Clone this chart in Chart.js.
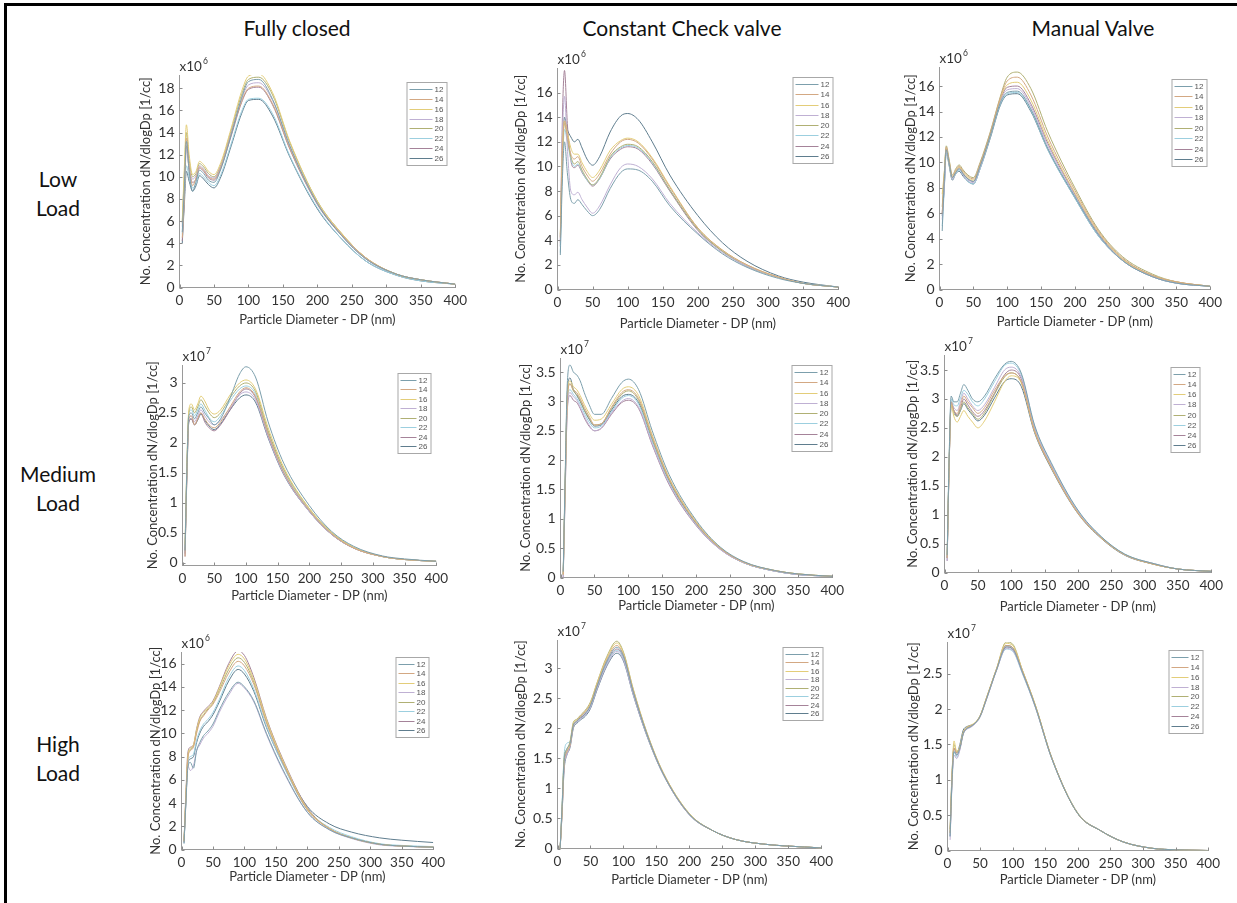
<!DOCTYPE html>
<html>
<head>
<meta charset="utf-8">
<script src="https://cdn.jsdelivr.net/npm/chart.js@4.4.1/dist/chart.umd.min.js"></script>
<style>
html, body { margin: 0; padding: 0; background: #fff; }
body { width: 1237px; height: 903px; position: relative; overflow: hidden; font-family: Lato, 'Open Sans', sans-serif; }
.frame { position: absolute; left: 4px; top: 3px; width: 1240px; height: 910px; border-top: 3px solid #000; border-left: 3px solid #000; }
.lbl { position: absolute; color: #111; font-size: 21px; line-height: 29px; text-align: center; white-space: nowrap; }
canvas { position: absolute; }
</style>
</head>
<body>
<div class="frame"></div>
<div class="lbl" style="left:147px;top:13px;width:300px;">Fully closed</div>
<div class="lbl" style="left:532px;top:13px;width:300px;">Constant Check valve</div>
<div class="lbl" style="left:943px;top:13px;width:300px;">Manual Valve</div>
<div class="lbl" style="left:8px;top:164px;width:100px;">Low<br>Load</div>
<div class="lbl" style="left:8px;top:459px;width:100px;">Medium<br>Load</div>
<div class="lbl" style="left:8px;top:729px;width:100px;">High<br>Load</div>

<script>
// particle diameter (nm) of the plotted bins
const diameters = [4, 7, 10, 14, 19, 24, 29, 35, 42, 50, 60, 75, 90, 100, 115, 135, 160, 200, 235, 270, 315, 350, 400];
const seriesLabels = ['12', '14', '16', '18', '20', '22', '24', '26'];

const xTicks = [0, 50, 100, 150, 200, 250, 300, 350, 400];
const ticksTo18 = [0, 2, 4, 6, 8, 10, 12, 14, 16, 18];
const ticksTo16 = [0, 2, 4, 6, 8, 10, 12, 14, 16];
const ticksTo3 = [0, 0.5, 1, 1.5, 2, 2.5, 3];
const ticksTo35 = [0, 0.5, 1, 1.5, 2, 2.5, 3, 3.5];
const ticksTo25 = [0, 0.5, 1, 1.5, 2, 2.5];

// low load, x10^6
const lowClosed = [
  [5.0, 9.0, 13.2, 10.5, 8.7, 9.6, 10.6, 10.3, 9.7, 9.5, 10.7, 13.8, 17.1, 18.6, 18.8, 17.0, 12.8, 7.6, 4.7, 2.6, 1.2, 0.7, 0.3],
  [4.5, 8.2, 13.5, 11.0, 9.2, 9.9, 10.9, 10.6, 10.0, 9.8, 10.9, 13.9, 16.8, 18.0, 18.2, 16.6, 12.6, 7.6, 4.8, 2.7, 1.2, 0.7, 0.3],
  [6.0, 10.8, 14.7, 12.0, 10.2, 10.5, 11.4, 11.1, 10.5, 10.2, 11.3, 14.4, 17.7, 19.1, 19.3, 17.6, 13.2, 7.8, 4.9, 2.7, 1.2, 0.7, 0.3],
  [5.5, 9.5, 12.5, 10.8, 9.8, 10.1, 11.0, 10.7, 10.1, 9.9, 11.0, 14.0, 17.0, 18.3, 18.5, 16.9, 12.8, 7.6, 4.8, 2.6, 1.2, 0.7, 0.3],
  [5.8, 10.2, 14.0, 11.5, 10.0, 10.3, 11.2, 10.9, 10.3, 10.0, 11.1, 14.2, 17.4, 18.8, 19.0, 17.4, 13.1, 7.8, 4.9, 2.7, 1.2, 0.7, 0.3],
  [4.8, 8.5, 11.0, 10.0, 9.0, 9.4, 10.3, 10.0, 9.5, 9.2, 10.2, 13.0, 15.9, 17.0, 17.1, 15.7, 11.9, 7.2, 4.4, 2.4, 1.1, 0.6, 0.3],
  [4.2, 8.0, 12.8, 10.6, 9.5, 9.8, 10.8, 10.5, 9.9, 9.7, 10.8, 13.7, 16.7, 17.9, 18.1, 16.5, 12.5, 7.5, 4.7, 2.6, 1.2, 0.7, 0.3],
  [4.0, 7.5, 10.5, 9.6, 8.7, 9.2, 10.1, 9.8, 9.3, 9.0, 10.0, 12.8, 15.7, 16.9, 17.0, 15.5, 11.8, 7.1, 4.4, 2.4, 1.1, 0.6, 0.3]
];
const lowCheck = [
  [2.8, 9.0, 12.0, 9.5, 7.3, 7.0, 7.3, 6.9, 6.4, 6.0, 6.5, 8.2, 9.5, 9.8, 9.7, 8.8, 6.8, 4.5, 2.9, 1.8, 0.9, 0.5, 0.2],
  [4.2, 11.0, 13.7, 12.5, 11.0, 10.6, 10.8, 10.0, 9.3, 8.8, 9.4, 11.0, 12.0, 12.2, 11.9, 10.6, 8.3, 5.0, 3.2, 2.0, 1.0, 0.5, 0.2],
  [4.5, 11.5, 13.7, 12.8, 11.5, 11.0, 11.0, 10.3, 9.6, 9.1, 9.7, 11.3, 12.1, 12.3, 12.0, 10.7, 8.4, 5.0, 3.2, 2.0, 1.0, 0.5, 0.2],
  [4.0, 12.5, 15.7, 11.5, 8.0, 7.7, 7.9, 7.3, 6.7, 6.2, 6.8, 8.5, 9.9, 10.2, 10.0, 9.0, 7.0, 4.6, 3.0, 1.9, 1.0, 0.5, 0.2],
  [4.3, 11.0, 13.5, 12.2, 10.8, 10.2, 10.4, 9.7, 9.0, 8.5, 9.1, 10.8, 11.6, 11.8, 11.6, 10.4, 8.1, 4.9, 3.1, 1.9, 1.0, 0.5, 0.2],
  [3.0, 10.0, 13.0, 12.0, 10.6, 10.0, 10.2, 9.6, 8.9, 8.5, 9.0, 10.7, 11.5, 11.7, 11.5, 10.3, 8.1, 4.9, 3.1, 1.9, 1.0, 0.5, 0.2],
  [3.8, 14.0, 17.8, 13.5, 10.5, 9.9, 10.1, 9.5, 8.9, 8.4, 9.0, 10.6, 11.4, 11.6, 11.4, 10.2, 8.0, 4.8, 3.1, 1.9, 1.0, 0.5, 0.2],
  [3.5, 11.0, 14.0, 13.0, 12.4, 12.0, 12.2, 11.5, 10.6, 10.1, 10.8, 12.8, 14.1, 14.3, 13.8, 12.0, 9.3, 6.0, 3.8, 2.3, 1.1, 0.6, 0.2]
];
const lowManual = [
  [4.6, 8.5, 11.0, 10.0, 8.8, 9.2, 9.5, 9.1, 8.7, 8.5, 9.7, 12.1, 14.7, 15.5, 15.6, 14.2, 11.1, 7.3, 4.3, 2.3, 1.0, 0.5, 0.25],
  [6.0, 9.0, 11.2, 10.2, 8.9, 9.4, 9.7, 9.3, 8.9, 8.7, 9.9, 12.3, 15.1, 16.4, 16.7, 15.3, 12.0, 7.8, 4.6, 2.5, 1.1, 0.6, 0.25],
  [7.5, 9.2, 11.1, 10.1, 8.8, 9.3, 9.6, 9.2, 8.8, 8.6, 9.8, 12.2, 15.0, 16.1, 16.3, 14.9, 11.7, 7.6, 4.5, 2.4, 1.1, 0.6, 0.25],
  [5.5, 8.0, 10.9, 10.0, 8.7, 9.2, 9.5, 9.0, 8.6, 8.4, 9.6, 12.1, 14.8, 15.7, 15.8, 14.4, 11.3, 7.4, 4.3, 2.3, 1.0, 0.5, 0.25],
  [6.5, 9.0, 11.3, 10.3, 9.0, 9.5, 9.8, 9.4, 9.0, 8.8, 10.0, 12.4, 15.2, 16.7, 17.1, 15.8, 12.4, 8.0, 4.7, 2.6, 1.2, 0.6, 0.25],
  [5.0, 7.8, 10.8, 9.9, 8.7, 9.1, 9.4, 9.0, 8.5, 8.3, 9.5, 12.0, 14.6, 15.4, 15.5, 14.1, 11.0, 7.2, 4.2, 2.3, 1.0, 0.5, 0.25],
  [6.0, 8.2, 11.0, 10.0, 8.8, 9.2, 9.6, 9.1, 8.7, 8.5, 9.7, 12.2, 14.9, 15.9, 16.0, 14.6, 11.5, 7.5, 4.4, 2.4, 1.1, 0.6, 0.25],
  [5.8, 8.0, 10.8, 9.8, 8.6, 9.1, 9.3, 8.9, 8.5, 8.3, 9.5, 11.9, 14.5, 15.3, 15.4, 14.0, 11.0, 7.2, 4.2, 2.3, 1.0, 0.5, 0.25]
];

// medium load, x10^7
const medClosed = [
  [0.2, 1.6, 2.45, 2.5, 2.4, 2.5, 2.6, 2.5, 2.4, 2.3, 2.4, 2.75, 3.15, 3.27, 3.1, 2.35, 1.65, 0.95, 0.52, 0.27, 0.11, 0.06, 0.02],
  [0.1, 1.5, 2.4, 2.45, 2.3, 2.4, 2.5, 2.4, 2.3, 2.25, 2.35, 2.6, 2.85, 2.92, 2.78, 2.15, 1.5, 0.87, 0.48, 0.24, 0.1, 0.05, 0.02],
  [0.3, 1.7, 2.55, 2.65, 2.55, 2.65, 2.78, 2.7, 2.55, 2.48, 2.55, 2.8, 3.0, 3.05, 2.9, 2.25, 1.58, 0.9, 0.5, 0.25, 0.1, 0.05, 0.02],
  [0.15, 1.55, 2.4, 2.45, 2.35, 2.45, 2.55, 2.45, 2.35, 2.3, 2.38, 2.58, 2.8, 2.85, 2.72, 2.1, 1.47, 0.85, 0.47, 0.24, 0.1, 0.05, 0.02],
  [0.2, 1.6, 2.5, 2.6, 2.5, 2.6, 2.72, 2.62, 2.5, 2.42, 2.5, 2.75, 2.95, 3.0, 2.86, 2.2, 1.55, 0.9, 0.5, 0.25, 0.1, 0.05, 0.02],
  [0.25, 1.65, 2.5, 2.55, 2.45, 2.55, 2.65, 2.55, 2.42, 2.35, 2.45, 2.7, 2.9, 2.95, 2.82, 2.18, 1.53, 0.88, 0.49, 0.25, 0.1, 0.05, 0.02],
  [0.1, 1.45, 2.35, 2.4, 2.3, 2.4, 2.5, 2.35, 2.25, 2.2, 2.3, 2.55, 2.82, 2.9, 2.76, 2.12, 1.49, 0.86, 0.47, 0.24, 0.1, 0.05, 0.02],
  [0.15, 1.5, 2.35, 2.4, 2.3, 2.38, 2.48, 2.38, 2.28, 2.22, 2.32, 2.55, 2.75, 2.8, 2.68, 2.08, 1.46, 0.85, 0.47, 0.24, 0.1, 0.05, 0.02]
];
const medCheck = [
  [0.1, 1.8, 3.3, 3.62, 3.5, 3.45, 3.35, 3.15, 2.95, 2.78, 2.78, 3.05, 3.32, 3.38, 3.2, 2.5, 1.75, 0.97, 0.52, 0.27, 0.12, 0.06, 0.02],
  [0.05, 1.6, 3.0, 3.3, 3.2, 3.15, 3.05, 2.9, 2.75, 2.6, 2.62, 2.9, 3.15, 3.2, 3.05, 2.4, 1.68, 0.93, 0.5, 0.26, 0.12, 0.06, 0.02],
  [0.05, 1.7, 3.1, 3.35, 3.25, 3.2, 3.1, 2.95, 2.8, 2.68, 2.7, 2.95, 3.2, 3.25, 3.1, 2.43, 1.7, 0.95, 0.51, 0.26, 0.12, 0.06, 0.02],
  [0.0, 1.5, 2.9, 3.15, 3.08, 3.02, 2.9, 2.75, 2.6, 2.5, 2.55, 2.8, 3.0, 3.05, 2.9, 2.28, 1.6, 0.89, 0.48, 0.25, 0.11, 0.05, 0.02],
  [0.05, 1.65, 3.05, 3.3, 3.18, 3.12, 3.02, 2.86, 2.72, 2.6, 2.62, 2.88, 3.12, 3.18, 3.02, 2.37, 1.66, 0.92, 0.5, 0.26, 0.12, 0.06, 0.02],
  [0.05, 1.6, 3.0, 3.2, 3.12, 3.05, 2.95, 2.8, 2.65, 2.55, 2.58, 2.82, 3.05, 3.1, 2.95, 2.32, 1.62, 0.9, 0.49, 0.25, 0.11, 0.05, 0.02],
  [0.0, 1.5, 2.85, 3.1, 3.02, 2.98, 2.88, 2.72, 2.58, 2.5, 2.54, 2.78, 2.98, 3.02, 2.88, 2.26, 1.58, 0.88, 0.48, 0.25, 0.11, 0.05, 0.02],
  [0.05, 1.7, 3.15, 3.4, 3.2, 3.1, 3.0, 2.85, 2.7, 2.58, 2.6, 2.85, 3.08, 3.12, 2.98, 2.34, 1.64, 0.91, 0.49, 0.25, 0.11, 0.05, 0.02]
];
const medManual = [
  [0.3, 2.0, 3.05, 2.95, 2.95, 3.1, 3.25, 3.15, 3.0, 2.95, 3.05, 3.35, 3.6, 3.65, 3.45, 2.55, 1.9, 1.08, 0.62, 0.32, 0.15, 0.06, 0.02],
  [0.25, 1.9, 2.95, 2.8, 2.75, 2.9, 3.05, 2.95, 2.85, 2.75, 2.85, 3.15, 3.4, 3.45, 3.3, 2.45, 1.82, 1.03, 0.6, 0.31, 0.14, 0.06, 0.02],
  [0.3, 1.9, 2.9, 2.7, 2.6, 2.7, 2.8, 2.7, 2.6, 2.5, 2.62, 2.95, 3.3, 3.4, 3.28, 2.45, 1.82, 1.03, 0.6, 0.31, 0.14, 0.06, 0.02],
  [0.2, 1.85, 2.95, 2.85, 2.8, 2.95, 3.1, 3.0, 2.88, 2.8, 2.9, 3.2, 3.5, 3.55, 3.38, 2.5, 1.86, 1.05, 0.61, 0.31, 0.15, 0.06, 0.02],
  [0.25, 1.9, 2.9, 2.75, 2.7, 2.82, 2.95, 2.85, 2.75, 2.65, 2.76, 3.08, 3.38, 3.45, 3.3, 2.45, 1.83, 1.04, 0.6, 0.31, 0.14, 0.06, 0.02],
  [0.3, 2.0, 3.0, 2.9, 2.88, 3.02, 3.15, 3.08, 2.95, 2.88, 3.0, 3.3, 3.58, 3.62, 3.42, 2.53, 1.88, 1.07, 0.62, 0.32, 0.15, 0.06, 0.02],
  [0.2, 1.85, 2.9, 2.8, 2.72, 2.85, 3.0, 2.9, 2.78, 2.7, 2.8, 3.1, 3.42, 3.5, 3.35, 2.48, 1.84, 1.04, 0.6, 0.31, 0.14, 0.06, 0.02],
  [0.25, 1.9, 2.95, 2.8, 2.7, 2.8, 2.92, 2.82, 2.72, 2.62, 2.72, 3.02, 3.3, 3.35, 3.22, 2.42, 1.8, 1.02, 0.59, 0.3, 0.14, 0.06, 0.02]
];

// high load, x10^6 for fully closed, x10^7 for the others
const highClosed = [
  [0.5, 4.0, 7.0, 7.5, 7.0, 8.5, 9.2, 9.8, 10.2, 10.8, 12.0, 13.5, 14.4, 14.0, 12.8, 10.0, 7.0, 3.2, 1.7, 1.0, 0.45, 0.3, 0.2],
  [0.7, 4.5, 7.8, 8.5, 8.8, 10.0, 11.0, 11.5, 12.0, 12.5, 13.5, 15.2, 16.2, 15.8, 14.2, 10.9, 7.6, 3.4, 1.8, 1.0, 0.45, 0.3, 0.2],
  [0.7, 4.6, 8.0, 8.7, 9.0, 10.3, 11.3, 11.8, 12.2, 12.7, 13.9, 15.8, 16.8, 16.4, 14.6, 11.2, 7.8, 3.5, 1.8, 1.0, 0.45, 0.3, 0.2],
  [0.6, 4.0, 7.2, 6.8, 7.2, 8.5, 9.0, 9.6, 10.0, 10.6, 11.8, 13.3, 14.3, 13.9, 12.7, 9.9, 6.9, 3.2, 1.7, 0.95, 0.4, 0.28, 0.18],
  [0.7, 4.5, 7.8, 8.6, 8.9, 10.2, 11.1, 11.6, 12.1, 12.6, 13.7, 15.5, 16.5, 16.1, 14.4, 11.0, 7.7, 3.5, 1.8, 1.0, 0.45, 0.3, 0.2],
  [0.6, 4.2, 7.5, 8.0, 8.2, 9.4, 10.2, 10.8, 11.2, 11.8, 12.9, 14.8, 15.8, 15.4, 13.8, 10.6, 7.4, 3.4, 1.9, 1.1, 0.5, 0.35, 0.25],
  [0.7, 4.8, 8.3, 8.8, 9.0, 10.4, 11.4, 11.9, 12.3, 12.8, 14.0, 16.0, 17.1, 16.7, 14.8, 11.3, 7.9, 3.6, 1.8, 1.0, 0.45, 0.3, 0.2],
  [0.6, 4.2, 7.3, 7.8, 8.0, 9.2, 10.0, 10.6, 11.0, 11.6, 12.7, 14.5, 15.5, 15.1, 13.6, 10.5, 7.5, 3.7, 2.2, 1.5, 1.0, 0.8, 0.6]
];
const highCheck = [
  [0.0, 0.7, 1.45, 1.65, 1.75, 2.05, 2.12, 2.18, 2.25, 2.38, 2.7, 3.12, 3.35, 3.2, 2.6, 1.92, 1.25, 0.57, 0.3, 0.15, 0.07, 0.04, 0.01],
  [0.0, 0.6, 1.4, 1.6, 1.72, 2.05, 2.12, 2.2, 2.28, 2.4, 2.72, 3.15, 3.38, 3.22, 2.62, 1.93, 1.26, 0.57, 0.3, 0.15, 0.07, 0.04, 0.01],
  [0.0, 0.65, 1.45, 1.62, 1.75, 2.08, 2.14, 2.2, 2.28, 2.42, 2.75, 3.18, 3.42, 3.25, 2.64, 1.94, 1.27, 0.58, 0.3, 0.15, 0.07, 0.04, 0.01],
  [0.0, 0.6, 1.35, 1.55, 1.7, 2.02, 2.1, 2.15, 2.22, 2.35, 2.66, 3.06, 3.28, 3.14, 2.56, 1.9, 1.24, 0.56, 0.3, 0.15, 0.07, 0.04, 0.01],
  [0.0, 0.7, 1.5, 1.65, 1.78, 2.1, 2.15, 2.22, 2.3, 2.44, 2.76, 3.2, 3.45, 3.27, 2.65, 1.95, 1.27, 0.58, 0.3, 0.15, 0.07, 0.04, 0.01],
  [0.0, 0.75, 1.55, 1.75, 1.78, 2.05, 2.1, 2.15, 2.22, 2.36, 2.68, 3.08, 3.3, 3.16, 2.58, 1.91, 1.25, 0.57, 0.3, 0.15, 0.07, 0.04, 0.01],
  [0.0, 0.65, 1.4, 1.6, 1.72, 2.04, 2.11, 2.17, 2.24, 2.37, 2.68, 3.1, 3.32, 3.18, 2.58, 1.91, 1.25, 0.57, 0.3, 0.15, 0.07, 0.04, 0.01],
  [0.0, 0.6, 1.3, 1.55, 1.68, 2.0, 2.08, 2.14, 2.2, 2.33, 2.64, 3.04, 3.25, 3.12, 2.55, 1.89, 1.24, 0.56, 0.3, 0.15, 0.07, 0.04, 0.01]
];
const highManual = [
  [0.2, 1.0, 1.4, 1.35, 1.45, 1.65, 1.72, 1.75, 1.8, 1.9, 2.15, 2.55, 2.88, 2.85, 2.52, 2.03, 1.3, 0.52, 0.28, 0.12, 0.03, 0.01, 0.0],
  [0.25, 1.05, 1.45, 1.38, 1.45, 1.66, 1.73, 1.76, 1.8, 1.9, 2.16, 2.56, 2.9, 2.87, 2.54, 2.04, 1.31, 0.52, 0.28, 0.12, 0.03, 0.01, 0.0],
  [0.3, 1.1, 1.55, 1.4, 1.47, 1.67, 1.74, 1.77, 1.81, 1.91, 2.17, 2.57, 2.93, 2.9, 2.55, 2.05, 1.31, 0.52, 0.28, 0.12, 0.03, 0.01, 0.0],
  [0.15, 0.95, 1.35, 1.3, 1.42, 1.64, 1.71, 1.74, 1.79, 1.89, 2.14, 2.54, 2.86, 2.83, 2.51, 2.02, 1.3, 0.52, 0.28, 0.12, 0.03, 0.01, 0.0],
  [0.25, 1.05, 1.5, 1.4, 1.46, 1.66, 1.73, 1.76, 1.8, 1.9, 2.16, 2.56, 2.95, 2.92, 2.55, 2.05, 1.31, 0.53, 0.28, 0.12, 0.03, 0.01, 0.0],
  [0.2, 1.0, 1.4, 1.32, 1.44, 1.65, 1.72, 1.75, 1.79, 1.89, 2.15, 2.55, 2.85, 2.82, 2.5, 2.02, 1.3, 0.52, 0.28, 0.12, 0.03, 0.01, 0.0],
  [0.2, 1.0, 1.45, 1.35, 1.44, 1.65, 1.72, 1.75, 1.8, 1.9, 2.15, 2.55, 2.88, 2.85, 2.52, 2.03, 1.3, 0.52, 0.28, 0.12, 0.03, 0.01, 0.0],
  [0.3, 1.1, 1.45, 1.38, 1.5, 1.7, 1.75, 1.77, 1.8, 1.9, 2.16, 2.56, 2.9, 2.87, 2.53, 2.04, 1.31, 0.52, 0.28, 0.12, 0.03, 0.01, 0.0]
];

const palette = ['#7c9fac', '#d3a883', '#e3cd79', '#bfb0d3', '#b0b074', '#9ccfdf', '#a58399', '#5f7d8e'];

// plot box (page px): l/r = x 0..400, t/b = y max..min; leg = legend box
const panels = [
  { rows: lowClosed,  l: 179, r: 457,  t: 75,  b: 287, ymin: 0,     ymax: 19.2, yt: ticksTo18, exp: '6', leg: [406, 82, 40, 83],  yg: 34, xg: 33 },
  { rows: lowCheck,   l: 557, r: 840,  t: 68,  b: 289, ymin: 0,     ymax: 18,   yt: ticksTo16, exp: '6', leg: [792, 77, 40, 86],  yg: 37, xg: 35 },
  { rows: lowManual,  l: 939, r: 1212, t: 67,  b: 289, ymin: 0,     ymax: 17.5, yt: ticksTo16, exp: '6', leg: [1171, 79, 35, 87], yg: 29, xg: 33 },
  { rows: medClosed,  l: 182, r: 438,  t: 365, b: 565, ymin: -0.05, ymax: 3.3,  yt: ticksTo3,  exp: '7', leg: [397, 373, 33, 80], yg: 30, xg: 31 },
  { rows: medCheck,   l: 560, r: 834,  t: 358, b: 577, ymin: 0,     ymax: 3.74, yt: ticksTo35, exp: '7', leg: [791, 365, 40, 86], yg: 35, xg: 29 },
  { rows: medManual,  l: 944, r: 1213, t: 355, b: 572, ymin: 0,     ymax: 3.76, yt: ticksTo35, exp: '7', leg: [1170, 367, 29, 85], yg: 32, xg: 35 },
  { rows: highClosed, l: 181, r: 435,  t: 652, b: 849, ymin: 0,     ymax: 17,   yt: ticksTo16, exp: '6', leg: [395, 657, 33, 80], yg: 26, xg: 28 },
  { rows: highCheck,  l: 557, r: 823,  t: 640, b: 848, ymin: 0,     ymax: 3.47, yt: ticksTo3,  exp: '7', leg: [782, 647, 40, 73], yg: 37, xg: 32 },
  { rows: highManual, l: 947, r: 1210, t: 642, b: 850, ymin: 0,     ymax: 2.95, yt: ticksTo25, exp: '7', leg: [1168, 650, 34, 83], yg: 34, xg: 30 }
];

const FONT = 'Lato, "Open Sans", sans-serif';
const PT = 22, PR = 14, TITLE_LH = 15;

// inward ticks, x10^n label and the small boxed legend
const decor = {
  id: 'decor',
  afterDraw(chart, args, o) {
    const { ctx, chartArea: a, scales: { x, y } } = chart;
    ctx.save();
    ctx.strokeStyle = '#8c8c8c';
    ctx.lineWidth = 1;
    ctx.beginPath();
    x.ticks.forEach(t => {
      const px = Math.round(x.getPixelForValue(t.value)) + 0.5;
      ctx.moveTo(px, a.bottom); ctx.lineTo(px, a.bottom - 3);
    });
    y.ticks.forEach(t => {
      const py = Math.round(y.getPixelForValue(t.value)) + 0.5;
      ctx.moveTo(a.left, py); ctx.lineTo(a.left + 3, py);
    });
    ctx.stroke();

    ctx.fillStyle = '#333';
    ctx.textAlign = 'left';
    ctx.textBaseline = 'alphabetic';
    ctx.font = '13.5px ' + FONT;
    ctx.fillText('x10', a.left, a.top - 4);
    const w = ctx.measureText('x10').width;
    ctx.font = '8.5px ' + FONT;
    ctx.fillText(o.exp, a.left + w + 1, a.top - 11);

    const [lx, ly, lw, lh] = o.leg;
    ctx.fillStyle = '#fff';
    ctx.fillRect(lx, ly, lw, lh);
    ctx.strokeStyle = '#a8a8a8';
    ctx.strokeRect(lx + 0.5, ly + 0.5, lw, lh);
    const step = (lh - 14) / (chart.data.datasets.length - 1);
    ctx.font = '8px "Liberation Sans", Arial, sans-serif';
    ctx.textBaseline = 'middle';
    chart.data.datasets.forEach((ds, i) => {
      const cy = Math.round(ly + 7 + i * step) + 0.5;
      ctx.strokeStyle = ds.borderColor;
      ctx.beginPath();
      ctx.moveTo(lx + 3, cy); ctx.lineTo(lx + lw - 14, cy);
      ctx.stroke();
      ctx.fillStyle = '#555';
      ctx.fillText(ds.label, lx + lw - 12, cy);
    });
    ctx.restore();
  }
};

panels.forEach(p => {
  const yw = p.yg + TITLE_LH / 2;
  const xh = p.xg + TITLE_LH / 2;
  const left = p.l - yw, top = p.t - PT;
  const cv = document.createElement('canvas');
  cv.width = Math.round(p.r - p.l + yw + PR);
  cv.height = Math.round(p.b - p.t + PT + xh);
  cv.style.left = left + 'px';
  cv.style.top = top + 'px';
  document.body.appendChild(cv);

  const datasets = p.rows.map((vals, i) => ({
    label: seriesLabels[i],
    data: diameters.map((d, j) => ({ x: d, y: vals[j] })),
    borderColor: palette[i],
    borderWidth: 1,
    pointRadius: 0,
    cubicInterpolationMode: 'monotone',
    fill: false
  }));

  new Chart(cv, {
    type: 'line',
    data: { datasets },
    plugins: [decor],
    options: {
      responsive: false,
      animation: false,
      events: [],
      layout: { padding: { left: 0, top: PT, right: PR, bottom: 0 } },
      plugins: {
        legend: { display: false },
        tooltip: { enabled: false },
        decor: { exp: p.exp, leg: [p.leg[0] - left, p.leg[1] - top, p.leg[2], p.leg[3]] }
      },
      scales: {
        x: {
          type: 'linear', min: 0, max: 400,
          afterBuildTicks: s => { s.ticks = xTicks.map(v => ({ value: v })); },
          afterFit: s => { s.height = xh; },
          grid: { display: false, drawTicks: false },
          border: { display: true, color: '#9a9a9a', width: 1 },
          ticks: { autoSkip: false, maxRotation: 0, padding: 5, color: '#333', font: { family: FONT, size: 13.5 }, callback: v => String(v) },
          title: { display: true, text: 'Particle Diameter - DP (nm)', color: '#333', padding: 0, font: { family: FONT, size: 13 } }
        },
        y: {
          type: 'linear', min: p.ymin, max: p.ymax,
          afterBuildTicks: s => { s.ticks = p.yt.map(v => ({ value: v })); },
          afterFit: s => { s.width = yw; },
          grid: { display: false, drawTicks: false },
          border: { display: true, color: '#9a9a9a', width: 1 },
          ticks: { autoSkip: false, padding: 5, color: '#333', font: { family: FONT, size: 14 }, callback: v => String(v) },
          title: { display: true, text: 'No. Concentration dN/dlogDp [1/cc]', color: '#333', padding: 0, font: { family: FONT, size: 13 } }
        }
      }
    }
  });
});
</script>
</body>
</html>
